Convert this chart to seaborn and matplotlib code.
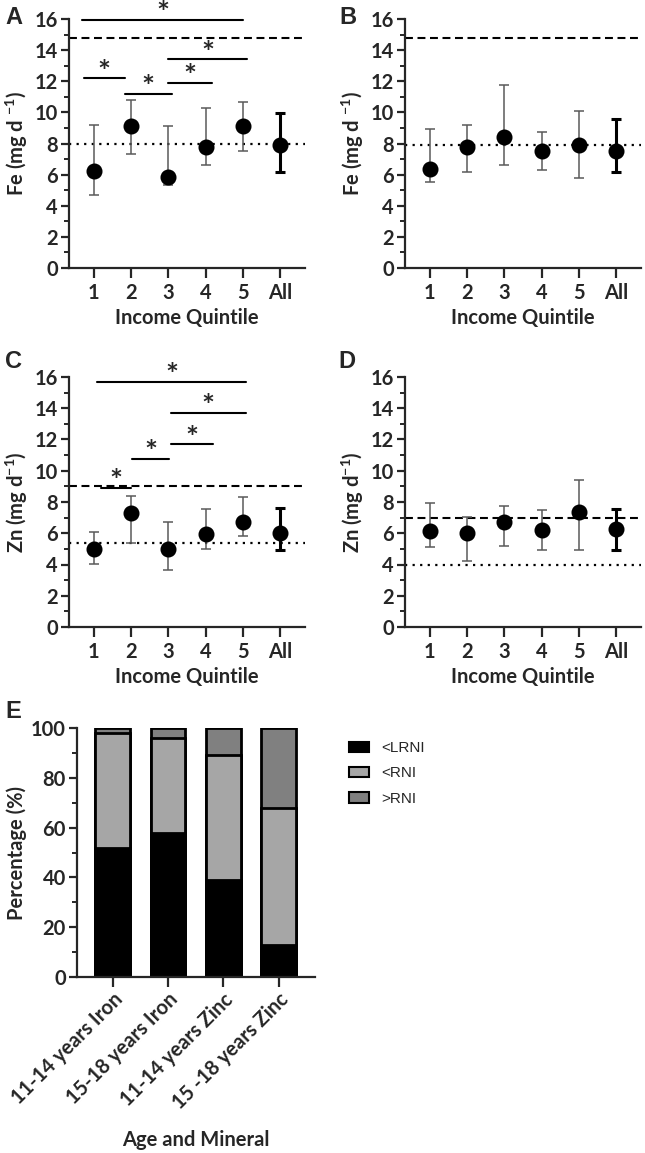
import numpy as np
import pandas as pd
import matplotlib
matplotlib.use('Agg')
import matplotlib.pyplot as plt
import seaborn as sns
from matplotlib.patches import Patch
from matplotlib.ticker import MultipleLocator

# ---- data ----
quintiles = ['1', '2', '3', '4', '5', 'All']

# A: iron, 11-14 years
fe_a_mean = [6.25, 9.1, 5.85, 7.8, 9.1, 7.9]
fe_a_low = [4.7, 7.3, 5.35, 6.6, 7.55, 6.15]
fe_a_high = [9.2, 10.8, 9.1, 10.25, 10.65, 9.95]
fe_a_rni, fe_a_lrni = 14.8, 8.0

# B: iron, 15-18 years
fe_b_mean = [6.35, 7.8, 8.4, 7.5, 7.9, 7.55]
fe_b_low = [5.55, 6.2, 6.65, 6.3, 5.8, 6.2]
fe_b_high = [8.9, 9.2, 11.75, 8.75, 10.1, 9.6]
fe_b_rni, fe_b_lrni = 14.8, 7.9

# C: zinc, 11-14 years
zn_c_mean = [5.0, 7.3, 5.0, 5.95, 6.75, 6.0]
zn_c_low = [4.05, 5.35, 3.65, 5.0, 5.8, 4.95]
zn_c_high = [6.1, 8.4, 6.75, 7.55, 8.35, 7.6]
zn_c_rni, zn_c_lrni = 9.0, 5.35

# D: zinc, 15-18 years
zn_d_mean = [6.15, 6.0, 6.7, 6.2, 7.35, 6.25]
zn_d_low = [5.15, 4.2, 5.2, 4.95, 4.9, 4.95]
zn_d_high = [7.95, 7.05, 7.75, 7.5, 9.4, 7.55]
zn_d_rni, zn_d_lrni = 7.0, 4.0

# E: percentage of intake vs reference
groups = ['11-14 years Iron', '15-18 years Iron', '11-14 years Zinc', '15 -18 years Zinc']
below_lrni = [52, 58, 39, 13]
below_rni = [46, 38, 50, 55]
above_rni = [2, 4, 11, 32]

# ---- style ----
sns.set_style('ticks')
plt.rcParams['font.family'] = ['Lato', 'DejaVu Sans']
plt.rcParams['font.weight'] = 'bold'
plt.rcParams['axes.labelweight'] = 'bold'
plt.rcParams['mathtext.default'] = 'regular'
plt.rcParams['axes.linewidth'] = 1.6
plt.rcParams['xtick.major.width'] = 1.6
plt.rcParams['ytick.major.width'] = 1.6
plt.rcParams['ytick.minor.width'] = 1.4

FS = 14.5

fig = plt.figure(figsize=(6.45, 11.53), dpi=100)

W, H = 645, 1153


def box(l, r, top, bot):
    return [l / W, 1 - bot / H, (r - l) / W, (bot - top) / H]


ax_a = fig.add_axes(box(69, 305, 19, 268))
ax_b = fig.add_axes(box(405, 641, 19, 268))
ax_c = fig.add_axes(box(69, 305, 377, 627))
ax_d = fig.add_axes(box(405, 641, 377, 627))
ax_e = fig.add_axes(box(77, 315, 728, 977))


def quintile_panel(ax, mean, low, high, rni, lrni, ylabel):
    pos = np.arange(len(quintiles))
    mean = np.array(mean)
    err = [mean - np.array(low), np.array(high) - mean]
    ax.errorbar(pos[:-1], mean[:-1], yerr=[err[0][:-1], err[1][:-1]], fmt='none',
                ecolor='#5a5a5a', elinewidth=1.1, capsize=3.8, capthick=1.1, zorder=2)
    ax.errorbar(pos[-1:], mean[-1:], yerr=[err[0][-1:], err[1][-1:]], fmt='none',
                ecolor='black', elinewidth=2.2, capsize=3.8, capthick=2.2, zorder=2)
    sns.pointplot(x=quintiles, y=mean, color='black', errorbar=None, linestyle='none',
                  marker='o', markersize=9.5, ax=ax, zorder=3)
    ax.axhline(rni, color='black', lw=1.5, ls=(0, (3.8, 2.2)), zorder=1)
    ax.axhline(lrni, color='black', lw=1.6, ls=(0, (1, 2.4)), zorder=1)
    ax.set_xlim(-0.66, 5.66)
    ax.set_ylim(0, 16)
    ax.yaxis.set_major_locator(MultipleLocator(2))
    ax.yaxis.set_minor_locator(MultipleLocator(1))
    ax.tick_params(axis='both', which='major', labelsize=FS, length=6, pad=2)
    ax.tick_params(axis='x', length=7, pad=4)
    ax.tick_params(axis='y', which='minor', length=3.5)
    ax.set_xlabel('Income Quintile', fontsize=FS)
    ax.xaxis.set_label_coords(0.5, -0.2)
    ax.xaxis.label.set_va('center')
    ax.set_ylabel(ylabel, fontsize=FS, labelpad=3)
    sns.despine(ax=ax)


def sig_bars(ax, spans):
    for x0, x1, y in spans:
        ax.plot([x0, x1], [y, y], color='black', lw=1.5, clip_on=False, zorder=4)
        ax.annotate('*', xy=((x0 + x1) / 2, y), xytext=(0, 4), textcoords='offset points',
                    ha='center', va='center', fontsize=22, fontweight='bold',
                    annotation_clip=False)


quintile_panel(ax_a, fe_a_mean, fe_a_low, fe_a_high, fe_a_rni, fe_a_lrni, 'Fe (mg d $^{-1}$)')
quintile_panel(ax_b, fe_b_mean, fe_b_low, fe_b_high, fe_b_rni, fe_b_lrni, 'Fe (mg d $^{-1}$)')
quintile_panel(ax_c, zn_c_mean, zn_c_low, zn_c_high, zn_c_rni, zn_c_lrni, 'Zn (mg d$^{-1}$)')
quintile_panel(ax_d, zn_d_mean, zn_d_low, zn_d_high, zn_d_rni, zn_d_lrni, 'Zn (mg d$^{-1}$)')

# significance brackets (start, end, height)
sig_bars(ax_a, [(-0.27, 0.83, 12.2), (0.83, 2.1, 11.2), (2.0, 3.18, 11.9),
                (2.0, 4.12, 13.4), (-0.3, 4.0, 15.95)])
sig_bars(ax_c, [(0.19, 0.99, 8.9), (1.04, 2.03, 10.75), (2.06, 3.2, 11.7),
                (2.06, 4.08, 13.7), (0.1, 4.08, 15.7)])

# ---- E: stacked bars ----
df = pd.DataFrame({'group': groups, 'lrni': below_lrni, 'rni': below_rni, 'above': above_rni})
df['top'] = df['lrni'] + df['rni'] + df['above']
df['mid'] = df['lrni'] + df['rni']
dark, light = '#808080', '#a6a6a6'
sns.barplot(data=df, x='group', y='top', color=dark, saturation=1, width=0.63,
            edgecolor='black', linewidth=2, ax=ax_e)
sns.barplot(data=df, x='group', y='mid', color=light, saturation=1, width=0.63,
            edgecolor='black', linewidth=2, ax=ax_e)
sns.barplot(data=df, x='group', y='lrni', color='black', saturation=1, width=0.63,
            edgecolor='black', linewidth=2, ax=ax_e)
ax_e.set_xlim(-0.645, 3.66)
ax_e.set_ylim(0, 100)
ax_e.yaxis.set_major_locator(MultipleLocator(20))
ax_e.yaxis.set_minor_locator(MultipleLocator(10))
ax_e.tick_params(axis='both', which='major', labelsize=FS, length=6, pad=2)
ax_e.tick_params(axis='x', length=7)
ax_e.tick_params(axis='y', which='minor', length=3.5)
plt.setp(ax_e.get_xticklabels(), rotation=45, ha='right', rotation_mode='anchor')
ax_e.set_xlabel('Age and Mineral', fontsize=FS)
ax_e.xaxis.set_label_coords(0.5, -0.655)
ax_e.xaxis.label.set_va('center')
ax_e.set_ylabel('Percentage (%)', fontsize=FS, labelpad=3)
sns.despine(ax=ax_e)

handles = [Patch(facecolor='black', edgecolor='black', lw=1.5, label='<LRNI'),
           Patch(facecolor=light, edgecolor='black', lw=1.5, label='<RNI'),
           Patch(facecolor=dark, edgecolor='black', lw=1.5, label='>RNI')]
fig.legend(handles=handles, loc='upper left', bbox_to_anchor=(349 / W, 1 - 741 / H),
           frameon=False, borderpad=0, borderaxespad=0, handlelength=1.3, handleheight=0.65,
           handletextpad=0.8, labelspacing=0.75,
           prop={'family': 'Liberation Sans', 'weight': 'normal', 'size': 11})

# panel letters
for letter, x, y in [('A', 5, 17), ('B', 339, 17), ('C', 5, 362), ('D', 338, 362), ('E', 5, 711)]:
    fig.text(x / W, 1 - y / H, letter, fontsize=17, fontweight='bold',
             family='Liberation Sans', ha='left', va='center')

fig.savefig('out.png', dpi=100)
